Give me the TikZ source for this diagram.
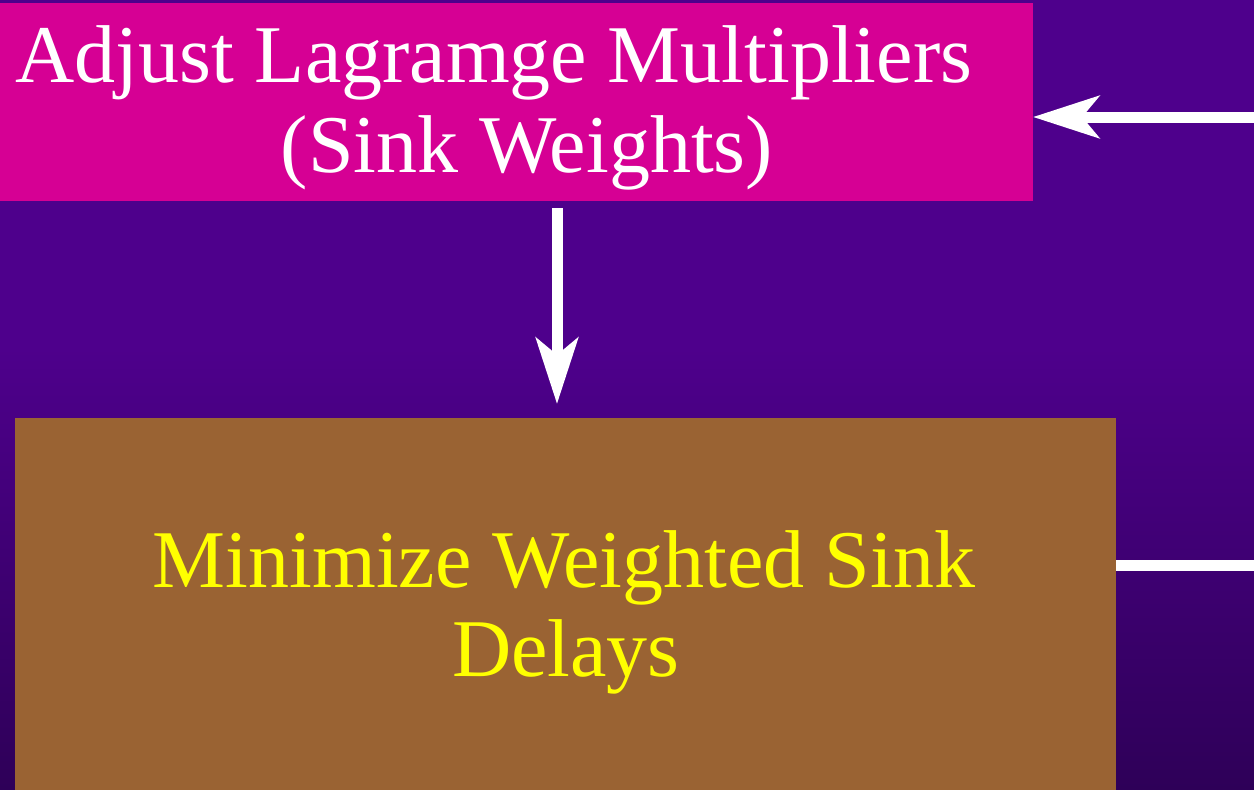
\documentclass[tikz,border=0pt]{standalone}
\usepackage{fontspec}
\setmainfont{Liberation Serif}
\usetikzlibrary{arrows.meta}
\definecolor{bgtop}{RGB}{78,0,140}
\definecolor{bgbot}{RGB}{46,0,88}
\definecolor{boxmag}{RGB}{214,0,148}
\definecolor{boxbrown}{RGB}{154,99,51}
\definecolor{txtyellow}{RGB}{255,255,0}
% backdrop: flat violet in the upper part, darkening towards the bottom
% (TikZ maps the path onto the 25bp..75bp band of the shading)
\pgfdeclareverticalshading{backdrop}{100bp}{color(0bp)=(bgbot); color(25bp)=(bgbot); color(53bp)=(bgtop); color(100bp)=(bgtop)}
\tikzset{
  panel/.style={rectangle, inner sep=0pt, outer sep=0pt, draw=none},
  label/.style={anchor=base, inner sep=0pt, font=\fontsize{82}{90}\selectfont},
  flow/.style={draw=white, line width=11pt,
    -{Stealth[length=66pt, width=42pt, inset=17pt]}},
  link/.style={draw=white, line width=11pt}
}
\begin{document}
\begin{tikzpicture}[x=1pt, y=-1pt]
  \useasboundingbox (0,0) rectangle (1254,790);
  \clip (0,0) rectangle (1254,790);
  \shade[shading=backdrop] (0,0) rectangle (1254,790);

  % boxes
  \node[panel, fill=boxmag, minimum width=1033pt, minimum height=198pt]
    (adj) at (516.5,102) {};
  \node[panel, fill=boxbrown, minimum width=1101pt, minimum height=392pt]
    (mini) at (565.5,614) {};

  % box texts
  \node[label, text=white] (adjA) at (494,82) {Adjust Lagramge Multipliers};
  \node[label, text=white] (adjB) at (527,172) {(Sink Weights)};
  \node[label, text=txtyellow] (minA) at (564,587) {Minimize Weighted Sink};
  \node[label, text=txtyellow] (minB) at (566,676) {Delays};

  % connectors
  \coordinate (col) at (557,0);
  \coordinate (rtop) at (1260,117);
  \coordinate (rbot) at (1260,565);
  \draw[flow, shorten <=7pt, shorten >=14pt] (adj.south -| col) -- (mini.north -| col);
  \draw[flow] (rtop) -- (rtop -| adj.east);
  \draw[link] (rbot -| mini.east) -- (rbot);
\end{tikzpicture}
\end{document}
